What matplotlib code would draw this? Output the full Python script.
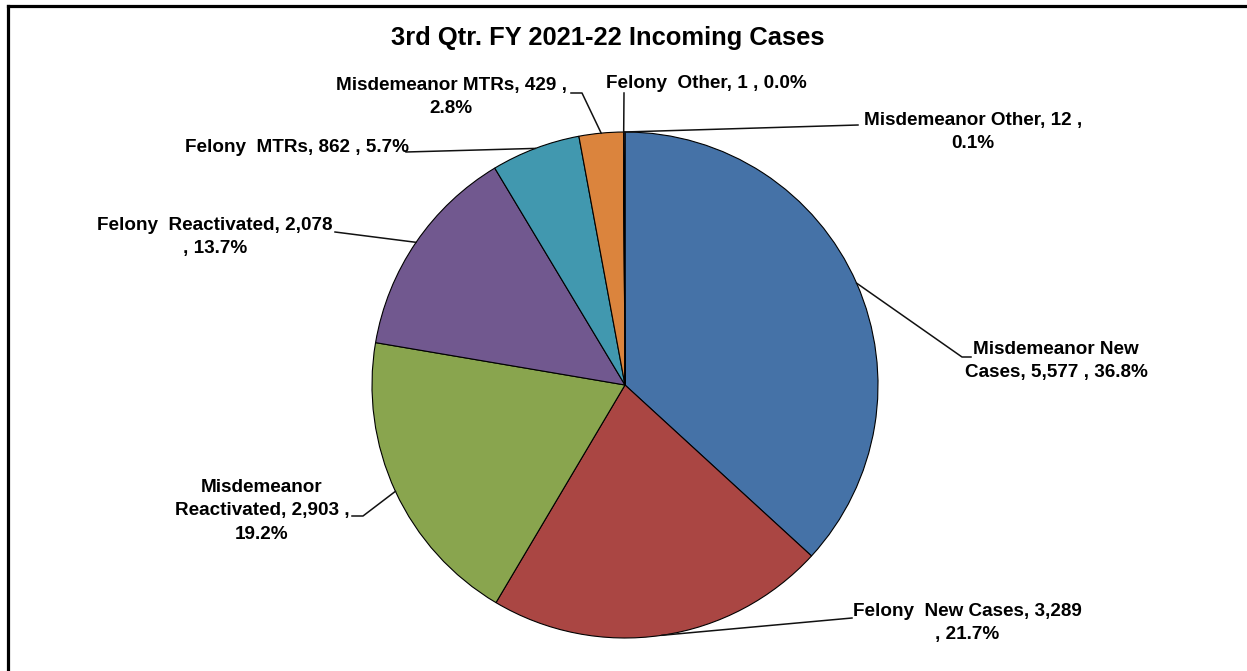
import matplotlib.pyplot as plt
import numpy as np

# data
categories = ['Misdemeanor New Cases', 'Felony  New Cases', 'Misdemeanor Reactivated',
              'Felony  Reactivated', 'Felony  MTRs', 'Misdemeanor MTRs',
              'Felony  Other', 'Misdemeanor Other']
counts = [5577, 3289, 2903, 2078, 862, 429, 1, 12]
label_text = [
    'Misdemeanor New\nCases, 5,577 , 36.8%',
    'Felony  New Cases, 3,289\n, 21.7%',
    'Misdemeanor\nReactivated, 2,903 ,\n19.2%',
    'Felony  Reactivated, 2,078\n, 13.7%',
    'Felony  MTRs, 862 , 5.7%',
    'Misdemeanor MTRs, 429 ,\n2.8%',
    'Felony  Other, 1 , 0.0%',
    'Misdemeanor Other, 12 ,\n0.1%',
]
colors = ['#4572A7', '#AA4643', '#89A54E', '#71588F', '#4198AF', '#DB843D', '#93A9CF', '#D19392']

W, H = 1247, 671
fy = lambda py: H - py  # pixel rows from top -> axis y

# label centres and leader points (pixels, from top)
label_pos = [(1056, 361), (967, 623), (262, 511), (215, 237), (297, 147),
             (451, 97), (706, 83), (973, 132)]
leader_pts = [
    [(971, 357), (962, 357)],
    [(852, 618)],
    [(352, 516), (363, 516)],
    [(335, 232)],
    [(406, 152)],
    [(571, 93), (582, 93)],
    [(624, 93)],
    [(858, 125)],
]

fig = plt.figure(figsize=(12.47, 6.71), dpi=100)
ax = fig.add_axes([0, 0, 1, 1])

cx, cy, r = 625, fy(385), 253
wedges, _ = ax.pie(counts, colors=colors, startangle=90, counterclock=False,
                   radius=r, center=(cx, cy),
                   wedgeprops=dict(edgecolor='black', linewidth=0.8))

for w, txt, pos, pts in zip(wedges, label_text, label_pos, leader_pts):
    th = np.deg2rad((w.theta1 + w.theta2) / 2)
    ex, ey = cx + r * np.cos(th), cy + r * np.sin(th)
    xs = [p[0] for p in pts] + [ex]
    ys = [fy(p[1]) for p in pts] + [ey]
    ax.plot(xs, ys, color='#111111', linewidth=1.1)
    ax.text(pos[0], fy(pos[1]), txt, ha='center', va='center', fontsize=13.6,
            fontweight='bold', family='Liberation Sans', linespacing=1.5)

ax.text(608, fy(38), '3rd Qtr. FY 2021-22 Incoming Cases', ha='center', va='center',
        fontsize=18.4, fontweight='bold', family='Liberation Sans')

# frame (only top and left visible)
ax.plot([7.5, 7.5], [0, fy(5.5)], color='black', linewidth=2.3, solid_capstyle='projecting')
ax.plot([7.5, W], [fy(5.5), fy(5.5)], color='black', linewidth=2.3, solid_capstyle='projecting')

ax.set_xlim(0, W)
ax.set_ylim(0, H)
ax.set_aspect('auto')
ax.axis('off')

plt.savefig('out.png', dpi=100)
